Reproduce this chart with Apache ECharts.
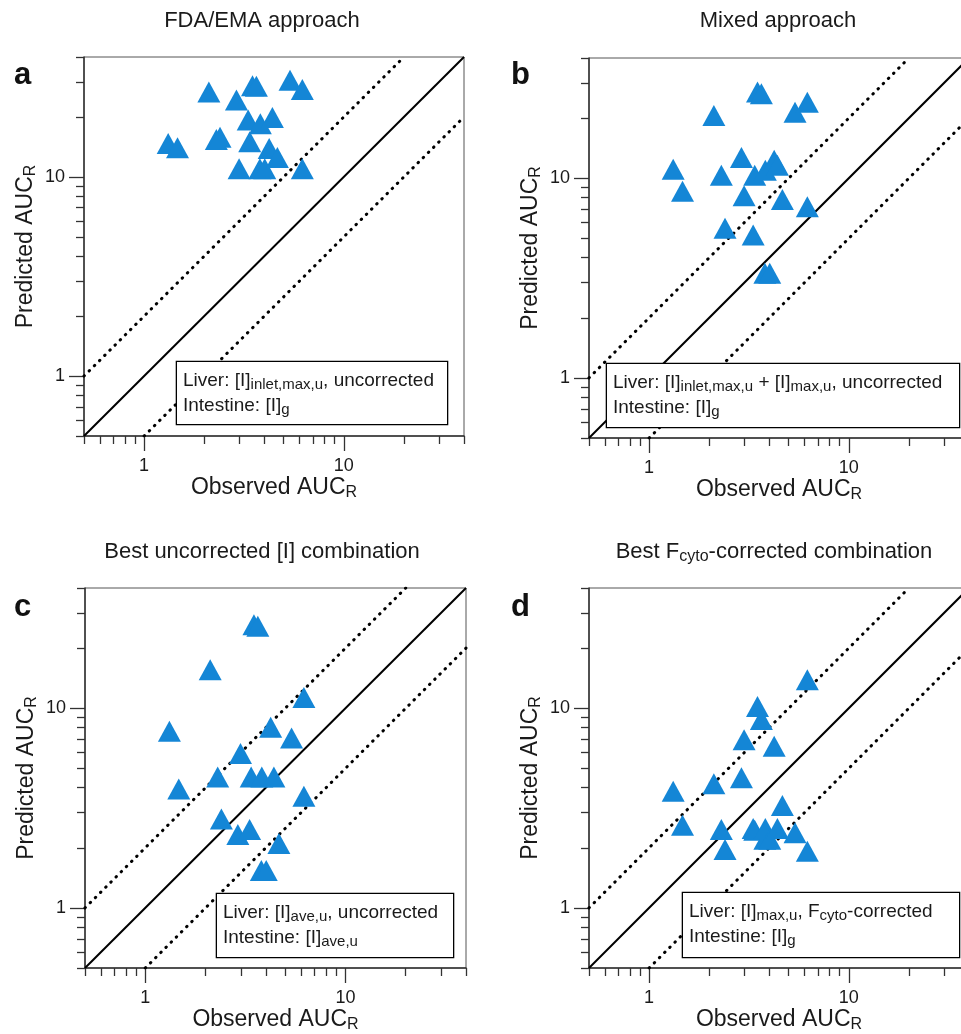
<!DOCTYPE html>
<html>
<head>
<meta charset="utf-8">
<script src="https://cdn.jsdelivr.net/npm/echarts@6/dist/echarts.min.js"></script>
<style>
  html, body { margin: 0; padding: 0; background: #fff; }
  #chart { width: 961px; height: 1034px; }
</style>
</head>
<body>
<div id="chart"></div>
<script>
// observed AUC ratio, same 20 interactions in every panel
const observed = [1.32, 1.47, 2.11, 2.30, 2.40, 2.90, 2.99, 3.32, 3.38, 3.49, 3.65, 3.80, 3.82, 4.02, 4.23, 4.39, 4.65, 5.38, 6.2, 6.2]
// predicted AUC ratio for each approach (same order as observed)
const predFdaEma = [14.7, 14.0, 26.7, 15.4, 15.8, 24.3, 11.0, 19.3, 15.0, 28.7, 28.5, 11.0, 18.5, 11.0, 13.9, 19.9, 12.5, 30.6, 27.5, 11.0]
const predMixed = [11.1, 8.61, 20.6, 10.35, 5.61, 12.7, 8.16, 5.19, 10.35, 27.0, 26.5, 3.34, 10.96, 3.34, 12.3, 11.6, 7.83, 21.4, 24.0, 7.19]
const predUncorr = [7.66, 3.94, 15.6, 4.53, 2.79, 2.33, 5.93, 2.47, 4.53, 26.2, 25.7, 1.54, 4.53, 1.54, 8.02, 4.53, 2.10, 7.10, 11.3, 3.62]
const predFcyto = [3.84, 2.59, 4.19, 2.47, 1.96, 4.48, 6.96, 2.50, 2.45, 10.2, 8.77, 2.21, 2.50, 2.21, 6.45, 2.50, 3.26, 2.38, 13.9, 1.92]

// axis range and ticks
const axisMin = 0.5
const axisMax = 40
const majorTicks = [1, 10]
const minorTicks = [0.5, 0.6, 0.7, 0.8, 0.9, 2, 3, 4, 5, 6, 7, 8, 9, 20, 30, 40]

// line of unity and two-fold limits
const unityLine = [[0.5, 0.5], [40, 40]]
const upperLine = [[0.5, 1], [20, 40]]
const lowerLine = [[1, 0.5], [40, 20]]

const font = 'Liberation Sans, Arial, Helvetica, sans-serif'
const textColor = '#1a1a1a'
const axisColor = '#333'
const pointColor = '#1486d6'

const panels = [
  {
    letter: 'a', pred: predFdaEma,
    grid: { left: 84, top: 57, width: 380, height: 379 },
    title: 'FDA/EMA approach', titleX: 262, titleY: 21,
    legend: 'Liver: [I]{s|inlet,max,u}, uncorrected\nIntestine: [I]{s|g}',
    box: { x: 177, y: 362, w: 270, h: 62 }
  },
  {
    letter: 'b', pred: predMixed,
    grid: { left: 589, top: 58, width: 380, height: 380 },
    title: 'Mixed approach', titleX: 778, titleY: 21,
    legend: 'Liver: [I]{s|inlet,max,u} + [I]{s|max,u}, uncorrected\nIntestine: [I]{s|g}',
    box: { x: 607, y: 364, w: 352, h: 63 }
  },
  {
    letter: 'c', pred: predUncorr,
    grid: { left: 85, top: 588, width: 381, height: 380 },
    title: 'Best uncorrected [I] combination', titleX: 262, titleY: 552,
    legend: 'Liver: [I]{s|ave,u}, uncorrected\nIntestine: [I]{s|ave,u}',
    box: { x: 217, y: 894, w: 236, h: 63 }
  },
  {
    letter: 'd', pred: predFcyto,
    grid: { left: 589, top: 588, width: 380, height: 380 },
    title: 'Best F{s|cyto}-corrected combination', titleX: 774, titleY: 552,
    legend: 'Liver: [I]{s|max,u}, F{s|cyto}-corrected\nIntestine: [I]{s|g}',
    box: { x: 683, y: 893, w: 276, h: 64 }
  }
]

const grids = []
const xAxes = []
const yAxes = []
const series = []
const graphics = []

panels.forEach((p, i) => {
  grids.push(Object.assign({
    show: true, borderColor: '#555', borderWidth: 1,
    containLabel: false, outerBoundsMode: 'none'
  }, p.grid))

  const common = {
    type: 'log', logBase: 10, gridIndex: i, min: axisMin, max: axisMax,
    splitLine: { show: false }, minorTick: { show: false }, minorSplitLine: { show: false }
  }
  const major = {
    axisLine: { show: true, lineStyle: { color: axisColor, width: 1.5 } },
    axisTick: { show: true, customValues: majorTicks, length: 15, lineStyle: { color: axisColor, width: 1.3 } },
    axisLabel: { show: true, customValues: majorTicks, fontSize: 18, fontFamily: font, color: textColor },
    nameLocation: 'middle',
    nameTextStyle: { fontSize: 23, fontFamily: font, color: textColor, rich: { s: { fontSize: 16, fontFamily: font, color: textColor, padding: [11, 0, 0, 0] } } }
  }
  const minor = {
    axisLine: { show: false },
    axisTick: { show: true, customValues: minorTicks, length: 8, lineStyle: { color: axisColor, width: 1.3 } },
    axisLabel: { show: false }
  }

  xAxes.push(Object.assign({}, common, major, {
    position: 'bottom', name: 'Observed AUC{s|R}', nameGap: 38,
    axisLabel: Object.assign({}, major.axisLabel, { margin: 21 })
  }))
  xAxes.push(Object.assign({}, common, minor, { position: 'bottom' }))
  yAxes.push(Object.assign({}, common, major, {
    position: 'left', name: 'Predicted AUC{s|R}', nameGap: 45,
    axisLabel: Object.assign({}, major.axisLabel, { margin: 19 })
  }))
  yAxes.push(Object.assign({}, common, minor, { position: 'left' }))

  const ax = { xAxisIndex: 2 * i, yAxisIndex: 2 * i }
  series.push(Object.assign({
    type: 'line', data: unityLine, symbol: 'none', silent: true, z: 3,
    lineStyle: { color: '#000', width: 2 }
  }, ax))
  ;[upperLine, lowerLine].forEach(d => {
    series.push(Object.assign({
      type: 'line', data: d, symbol: 'none', silent: true, z: 3,
      lineStyle: { color: '#000', width: 3, type: [0.5, 6.8], cap: 'round' }
    }, ax))
  })
  series.push(Object.assign({
    type: 'scatter', symbol: 'triangle', symbolSize: [23, 21], z: 5,
    itemStyle: { color: pointColor, opacity: 1 },
    data: observed.map((o, k) => [o, p.pred[k]])
  }, ax))

  // panel title
  graphics.push({
    type: 'text', x: p.titleX, y: p.titleY, z: 10,
    style: {
      text: p.title, fontSize: 22, fontFamily: font, fill: textColor,
      align: 'center', verticalAlign: 'middle',
      rich: { s: { fontSize: 16, fontFamily: font, fill: textColor, padding: [10, 0, 0, 0] } }
    }
  })
  // panel letter
  graphics.push({
    type: 'text', x: i % 2 ? 511 : 14, y: i < 2 ? 75 : 607, z: 10,
    style: { text: p.letter, fontSize: 31, fontWeight: 'bold', fontFamily: font, fill: '#111', verticalAlign: 'middle' }
  })
  // legend box
  graphics.push({
    type: 'text', x: p.box.x, y: p.box.y, z: 20,
    style: {
      text: p.legend, fontSize: 19, fontFamily: font, fill: textColor, lineHeight: 25,
      width: p.box.w - 12, height: p.box.h - 12,
      padding: [6, 6, 6, 6], backgroundColor: '#fff', borderColor: '#000', borderWidth: 1.3,
      align: 'left', verticalAlign: 'top',
      rich: { s: { fontSize: 15, fontFamily: font, fill: textColor, padding: [9, 0, 0, 0] } }
    }
  })
})

const chart = echarts.init(document.getElementById('chart'))
chart.setOption({
  animation: false,
  backgroundColor: '#fff',
  grid: grids,
  xAxis: xAxes,
  yAxis: yAxes,
  series: series,
  graphic: graphics
})
</script>
</body>
</html>
